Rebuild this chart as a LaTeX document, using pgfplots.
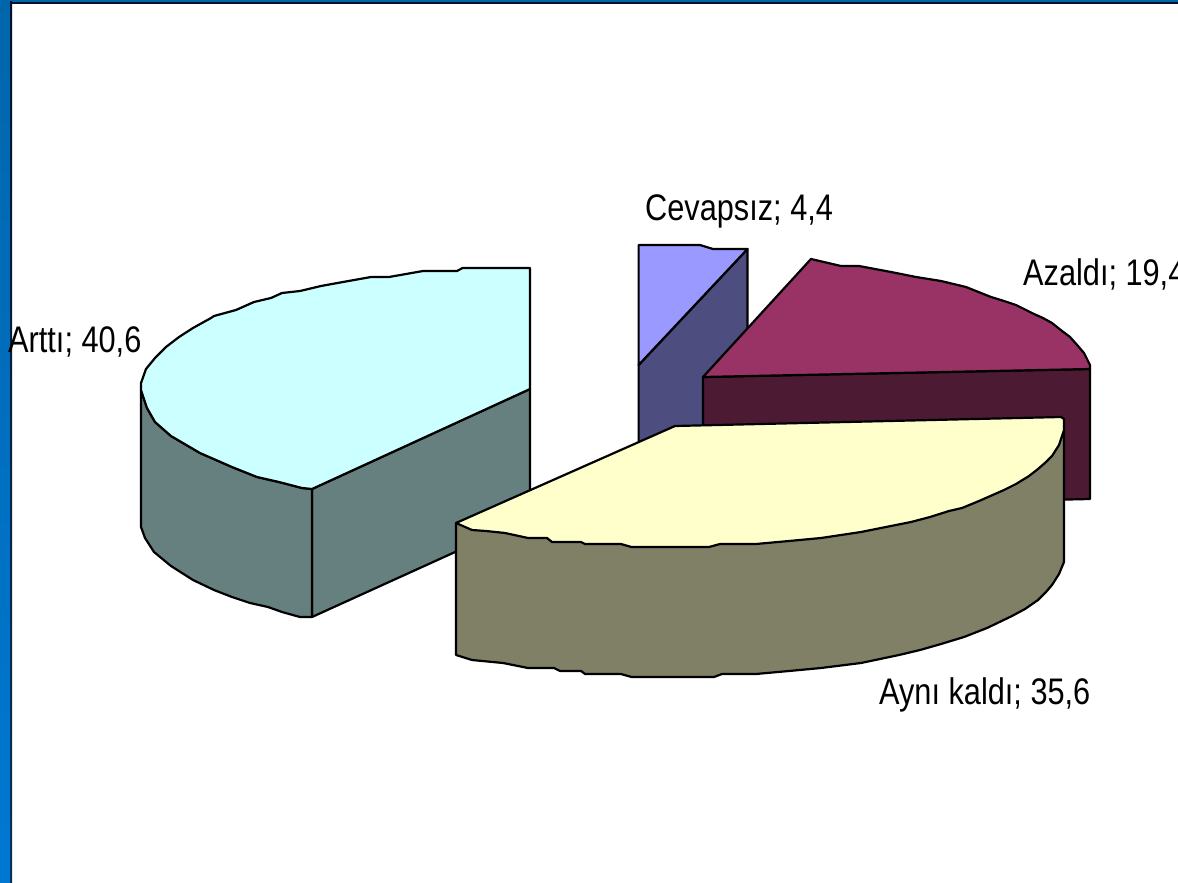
\documentclass[border=0pt]{standalone}
\usepackage{pgfplots}
\pgfplotsset{compat=1.18}
\usepackage{fontspec}
\setmainfont[FakeStretch=0.83]{Liberation Sans}
\definecolor{frameTop}{RGB}{0,102,172}
\definecolor{frameBot}{RGB}{0,120,210}
\definecolor{edgeTop}{RGB}{0,16,40}
\definecolor{edgeBot}{RGB}{0,48,92}
\definecolor{artTop}{RGB}{204,255,255}
\definecolor{artSide}{RGB}{102,128,128}
\definecolor{aynTop}{RGB}{255,255,204}
\definecolor{aynSide}{RGB}{128,128,102}
\definecolor{azaTop}{RGB}{153,51,102}
\definecolor{azaSide}{RGB}{77,26,51}
\definecolor{cevTop}{RGB}{153,153,255}
\definecolor{cevSide}{RGB}{77,77,128}
\begin{document}
\begin{tikzpicture}
\path[use as bounding box] (0,0) rectangle (1178pt,883pt);
\clip (0,0) rectangle (1178pt,883pt);
\shade[top color=frameTop,bottom color=frameBot] (0,0) rectangle (10pt,883pt);
\fill[frameTop] (0,881pt) rectangle (1178pt,883pt);
\shade[top color=edgeTop,bottom color=edgeBot] (10pt,0) rectangle (12pt,881pt);
\fill[edgeTop] (10pt,879pt) rectangle (1178pt,881pt);
\begin{axis}[
  scale only axis,width=1178pt,height=883pt,
  axis lines=none,xmin=0,xmax=1178,ymin=0,ymax=883,y dir=reverse,
  clip=false,
  every axis plot/.append style={draw=black,line width=2.2pt,line join=round},
]
% Cevapsiz
\addplot[fill=cevSide] coordinates {(747.5,249)(638.6,365)(638.6,494)(747.5,378)} -- cycle;
\addplot[fill=cevTop] coordinates {(638.6,245)(700,245)(713,249)(747.5,249)(638.6,365)} -- cycle;
% Azaldi
\addplot[fill=azaSide] coordinates {(703,377)(1090,369)(1090,499)(703,508)} -- cycle;
\addplot[fill=azaTop] coordinates {(703,377)(811,259)(841,266)(859,266)(891,272)(916,277)(941,281)(966,287)(991,297)(1004,301)(1016,305)(1034,314)(1043,318)(1052,323)(1062,331)(1070,337)(1078,346)(1084,353)(1090,365)(1090,369)} -- cycle;
% Artti
\addplot[fill=artSide] coordinates {(312,489)(530,389)(530,518)(312,617)} -- cycle;
\addplot[fill=artSide] coordinates {(141,390)(147,408)(155,422)(171,436)(200,453)(232,467)(257,477)(279,482)(302,488)(312,489)(312,617)(300,617)(282,612)(268,607)(250,603)(232,597)(214,590)(193,580)(171,566)(154,552)(145,538)(141,527)} -- cycle;
\addplot[fill=artTop] coordinates {(530,268)(462.5,268)(457,271)(423,271)(389,277)(371,277)(343,282)(321,286)(300,291)(282,293)(271,298)(254,302)(236,310)(214,316)(211,318)(193,328)(179,337)(166,347)(155,358)(146,369)(141,383)(141,390)(147,408)(155,422)(171,436)(200,453)(232,467)(257,477)(279,482)(302,488)(312,489)(530,389)} -- cycle;
% Ayni kaldi
\addplot[fill=aynSide] coordinates {(456,523)(456,655)(472,660)(503,663)(528,668)(554,668)(560,671)(581,671)(585,674)(621,674)(631.5,677)(714,677)(722,674)(756,674)(789,671)(821,668)(861,663)(880,659)(899,655)(920,650)(941,644)(964,637)(987,628)(1012,616)(1025,609)(1038,600)(1046,592)(1052,585)(1059,574)(1064,562)(1064,430)} -- cycle;
\addplot[fill=aynTop] coordinates {(456,523)(472,530)(486,531)(505,533)(528,538)(547,538)(552,542)(581,542)(585,544)(621,544)(631.5,547)(709,547)(720,544)(756,544)(789,541)(821,538)(861,532)(911,522)(930,517)(949,511)(962,508)(979,501)(1004,490)(1016,484)(1029,476)(1038,469)(1046,462)(1052,456)(1059,445)(1064,430)(1064,419)(1061,417)(675,426)} -- cycle;
% Labels
\node[anchor=base west,inner sep=0pt,font=\fontsize{37}{40}\selectfont] at (axis cs:8,352) {Arttı; 40,6};
\node[anchor=base west,inner sep=0pt,font=\fontsize{37}{40}\selectfont] at (axis cs:645,221) {Cevapsız; 4,4};
\node[anchor=base west,inner sep=0pt,font=\fontsize{37}{40}\selectfont] at (axis cs:1023,285) {Azaldı; 19,4};
\node[anchor=base west,inner sep=0pt,font=\fontsize{37}{40}\selectfont] at (axis cs:879,704) {Aynı kaldı; 35,6};
\end{axis}
\end{tikzpicture}
\end{document}
